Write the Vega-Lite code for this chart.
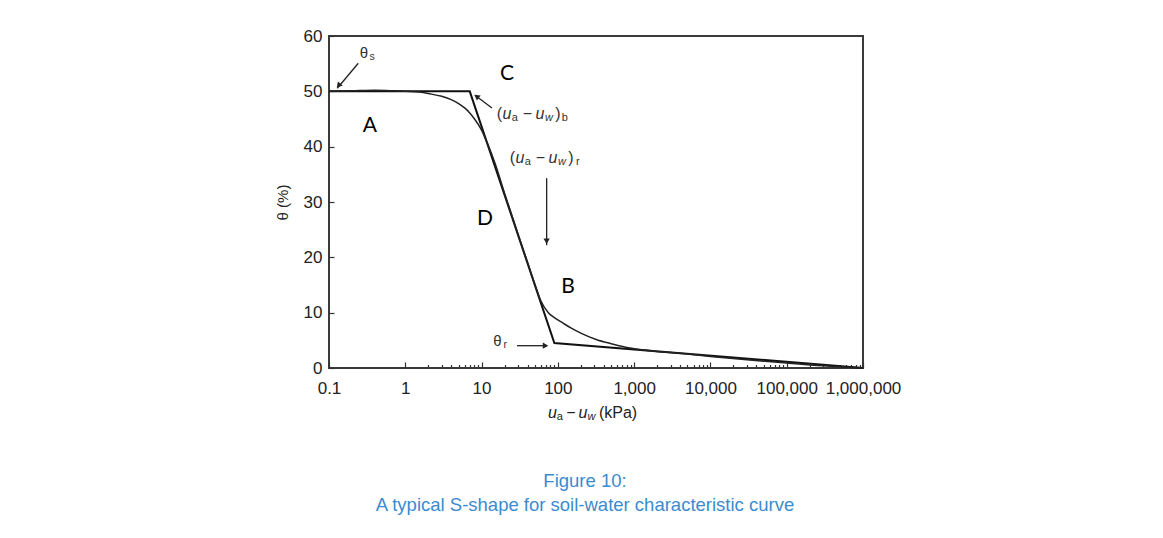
{
  "$schema": "https://vega.github.io/schema/vega-lite/v6.json",
  "width": 534,
  "height": 332,
  "autosize": {"type": "none"},
  "padding": {"left": 329, "top": 36, "right": 300, "bottom": 170},
  "background": "white",
  "title": {
    "text": ["Figure 10:", "A typical S-shape for soil-water characteristic curve"],
    "orient": "bottom",
    "anchor": "middle",
    "font": "Liberation Sans",
    "fontSize": 18.5,
    "fontWeight": "normal",
    "color": "#3b8bd0",
    "lineHeight": 24.5,
    "offset": 50,
    "dx": -11
  },
  "config": {
    "view": {"stroke": "#3a3a3a", "strokeWidth": 2},
    "axis": {
      "domain": false,
      "grid": false,
      "labelFont": "Liberation Sans",
      "labelFontSize": 17,
      "labelColor": "#222",
      "tickColor": "#333",
      "tickWidth": 1.2,
      "titleFont": "Liberation Sans",
      "titleFontWeight": "normal",
      "titleColor": "#222"
    }
  },
  "datasets": {
    "smooth": [
      {"x": 0.1, "y": 50}, {"x": 0.2, "y": 50.1}, {"x": 0.4, "y": 50.2}, {"x": 0.7, "y": 50.1},
      {"x": 1, "y": 50}, {"x": 1.5, "y": 49.9}, {"x": 2, "y": 49.6}, {"x": 3, "y": 49.1},
      {"x": 4, "y": 48.5}, {"x": 5, "y": 47.8}, {"x": 6, "y": 47}, {"x": 7, "y": 46.1},
      {"x": 8, "y": 45.1}, {"x": 10, "y": 43}, {"x": 12, "y": 40.5}, {"x": 15, "y": 37},
      {"x": 20, "y": 31.6}, {"x": 30, "y": 24.2}, {"x": 40, "y": 19.1}, {"x": 50, "y": 15.1},
      {"x": 60, "y": 12.1}, {"x": 75, "y": 10}, {"x": 90, "y": 9.1}, {"x": 117, "y": 8.1},
      {"x": 150, "y": 7.2}, {"x": 200, "y": 6.3}, {"x": 324, "y": 5.1}, {"x": 500, "y": 4.4},
      {"x": 886, "y": 3.6}, {"x": 2000, "y": 3.0}, {"x": 4000, "y": 2.65}, {"x": 10000, "y": 2.1},
      {"x": 30000, "y": 1.5}, {"x": 100000, "y": 0.9}, {"x": 300000, "y": 0.4}, {"x": 1000000, "y": 0}
    ],
    "bilinear": [
      {"x": 0.1, "y": 50}, {"x": 7, "y": 50}, {"x": 90, "y": 4.5}, {"x": 1000000, "y": 0}
    ],
    "arrows": [
      {"id": "s", "x": 0.242, "y": 55.07, "x2": 0.1285, "y2": 50.55},
      {"id": "b", "x": 13.7, "y": 47.0, "x2": 8.19, "y2": 49.3},
      {"id": "r", "x": 71.3, "y": 34.3, "x2": 71.3, "y2": 22.2},
      {"id": "t", "x": 29.1, "y": 4.03, "x2": 71.9, "y2": 4.03}
    ],
    "heads": [
      {"id": "s", "x": 0.1335, "y": 51.05},
      {"id": "b", "x": 8.6, "y": 49.1},
      {"id": "r", "x": 71.3, "y": 22.9},
      {"id": "t", "x": 69.0, "y": 4.03}
    ],
    "letters": [
      {"x": 0.344, "y": 43.7, "t": "A"},
      {"x": 135.5, "y": 14.6, "t": "B"},
      {"x": 21.5, "y": 53.1, "t": "C"},
      {"x": 11.1, "y": 26.9, "t": "D"}
    ],
    "thetas": [
      {"x": 0.288, "y": 57.0, "sub": "s"},
      {"x": 16.1, "y": 4.88, "sub": "r"}
    ],
    "eq": [
      {"x": 15.9, "y": 45.9, "sub": "b"},
      {"x": 23.5, "y": 37.95, "sub": "r"}
    ],
    "xt": [
      {"x": 74.1, "y": -8.13}
    ]
  },
  "encoding": {
    "x": {
      "field": "x",
      "type": "quantitative",
      "scale": {"type": "log", "domain": [0.1, 1000000], "nice": false},
      "axis": {
        "title": null,
        "values": [0.1, 1, 10, 100, 1000, 10000, 100000, 1000000,
          2, 3, 4, 5, 6, 7, 8, 9,
          20, 30, 40, 50, 60, 70, 80, 90,
          200, 300, 400, 500, 600, 700, 800, 900,
          2000, 3000, 4000, 5000, 6000, 7000, 8000, 9000,
          20000, 30000, 40000, 50000, 60000, 70000, 80000, 90000,
          200000, 300000, 400000, 500000, 600000, 700000, 800000, 900000],
        "labelExpr": "indexof([0.1,1,10,100,1000,10000,100000,1000000], datum.value) >= 0 ? format(datum.value, ',') : ''",
        "tickSize": {"condition": {"test": "indexof([0.1,1,10,100,1000,10000,100000,1000000], datum.value) >= 0", "value": -6}, "value": -3.5},
        "labelPadding": 18,
        "labelFlush": false,
        "labelOverlap": false,
        "labelBaseline": "top"
      }
    },
    "y": {
      "field": "y",
      "type": "quantitative",
      "scale": {"domain": [0, 60], "nice": false},
      "axis": {
        "title": "θ (%)",
        "titleFontSize": 15,
        "titlePadding": 13,
        "values": [0, 10, 20, 30, 40, 50, 60],
        "tickSize": -5,
        "labelPadding": 12
      }
    }
  },
  "layer": [
    {
      "data": {"name": "bilinear"},
      "mark": {"type": "line", "color": "#111", "strokeWidth": 2, "clip": false}
    },
    {
      "data": {"name": "smooth"},
      "mark": {"type": "line", "color": "#222", "strokeWidth": 1.5, "interpolate": "monotone"}
    },
    {
      "data": {"name": "arrows"},
      "mark": {"type": "rule", "color": "#222", "strokeWidth": 1.3},
      "encoding": {"x2": {"field": "x2"}, "y2": {"field": "y2"}}
    },
    {
      "data": {"name": "heads"},
      "transform": [{"filter": "datum.id == 's'"}],
      "mark": {"type": "point", "shape": "triangle-up", "filled": true, "fill": "#222", "stroke": null, "size": 40, "angle": 220, "opacity": 1}
    },
    {
      "data": {"name": "heads"},
      "transform": [{"filter": "datum.id == 'b'"}],
      "mark": {"type": "point", "shape": "triangle-up", "filled": true, "fill": "#222", "stroke": null, "size": 40, "angle": 307, "opacity": 1}
    },
    {
      "data": {"name": "heads"},
      "transform": [{"filter": "datum.id == 'r'"}],
      "mark": {"type": "point", "shape": "triangle-down", "filled": true, "fill": "#222", "stroke": null, "size": 40, "opacity": 1}
    },
    {
      "data": {"name": "heads"},
      "transform": [{"filter": "datum.id == 't'"}],
      "mark": {"type": "point", "shape": "triangle-right", "filled": true, "fill": "#222", "stroke": null, "size": 40, "opacity": 1}
    },
    {
      "data": {"name": "letters"},
      "mark": {"type": "text", "font": "Lato", "fontSize": 21, "color": "#000", "align": "center", "baseline": "middle"},
      "encoding": {"text": {"field": "t"}}
    },
    {
      "data": {"name": "thetas"},
      "mark": {"type": "text", "font": "Liberation Sans", "fontSize": 15, "color": "#333", "align": "center", "baseline": "middle"},
      "encoding": {"text": {"value": "θ"}}
    },
    {
      "data": {"name": "thetas"},
      "mark": {"type": "text", "font": "Liberation Sans", "fontSize": 10.5, "color": "#333", "align": "center", "baseline": "middle", "dx": 8, "dy": 4.5},
      "encoding": {"text": {"field": "sub"}}
    },
    {
      "data": {"name": "eq"},
      "mark": {"type": "text", "font": "Liberation Sans", "fontSize": 16, "color": "#333", "align": "center", "baseline": "middle", "dx": 2.5},
      "encoding": {"text": {"value": "("}}
    },
    {
      "data": {"name": "eq"},
      "mark": {"type": "text", "font": "Liberation Sans", "fontSize": 16, "fontStyle": "italic", "color": "#333", "align": "center", "baseline": "middle", "dx": 10},
      "encoding": {"text": {"value": "u"}}
    },
    {
      "data": {"name": "eq"},
      "mark": {"type": "text", "font": "Liberation Sans", "fontSize": 11, "color": "#333", "align": "center", "baseline": "middle", "dx": 18, "dy": 4},
      "encoding": {"text": {"value": "a"}}
    },
    {
      "data": {"name": "eq"},
      "mark": {"type": "text", "font": "Liberation Sans", "fontSize": 16, "color": "#333", "align": "center", "baseline": "middle", "dx": 30.5},
      "encoding": {"text": {"value": "−"}}
    },
    {
      "data": {"name": "eq"},
      "mark": {"type": "text", "font": "Liberation Sans", "fontSize": 16, "fontStyle": "italic", "color": "#333", "align": "center", "baseline": "middle", "dx": 43},
      "encoding": {"text": {"value": "u"}}
    },
    {
      "data": {"name": "eq"},
      "mark": {"type": "text", "font": "Liberation Sans", "fontSize": 11, "fontStyle": "italic", "color": "#333", "align": "center", "baseline": "middle", "dx": 52, "dy": 4},
      "encoding": {"text": {"value": "w"}}
    },
    {
      "data": {"name": "eq"},
      "mark": {"type": "text", "font": "Liberation Sans", "fontSize": 16, "color": "#333", "align": "center", "baseline": "middle", "dx": 61},
      "encoding": {"text": {"value": ")"}}
    },
    {
      "data": {"name": "eq"},
      "mark": {"type": "text", "font": "Liberation Sans", "fontSize": 11, "color": "#333", "align": "center", "baseline": "middle", "dx": 68, "dy": 4},
      "encoding": {"text": {"field": "sub"}}
    },
    {
      "data": {"name": "xt"},
      "mark": {"type": "text", "font": "Liberation Sans", "fontSize": 16, "fontStyle": "italic", "color": "#222", "align": "center", "baseline": "middle", "dx": 4.5},
      "encoding": {"text": {"value": "u"}}
    },
    {
      "data": {"name": "xt"},
      "mark": {"type": "text", "font": "Liberation Sans", "fontSize": 11, "color": "#222", "align": "center", "baseline": "middle", "dx": 12, "dy": 4},
      "encoding": {"text": {"value": "a"}}
    },
    {
      "data": {"name": "xt"},
      "mark": {"type": "text", "font": "Liberation Sans", "fontSize": 16, "color": "#222", "align": "center", "baseline": "middle", "dx": 23},
      "encoding": {"text": {"value": "−"}}
    },
    {
      "data": {"name": "xt"},
      "mark": {"type": "text", "font": "Liberation Sans", "fontSize": 16, "fontStyle": "italic", "color": "#222", "align": "center", "baseline": "middle", "dx": 35},
      "encoding": {"text": {"value": "u"}}
    },
    {
      "data": {"name": "xt"},
      "mark": {"type": "text", "font": "Liberation Sans", "fontSize": 11, "fontStyle": "italic", "color": "#222", "align": "center", "baseline": "middle", "dx": 43.5, "dy": 4},
      "encoding": {"text": {"value": "w"}}
    },
    {
      "data": {"name": "xt"},
      "mark": {"type": "text", "font": "Liberation Sans", "fontSize": 16, "color": "#222", "align": "left", "baseline": "middle", "dx": 51},
      "encoding": {"text": {"value": "(kPa)"}}
    }
  ]
}
